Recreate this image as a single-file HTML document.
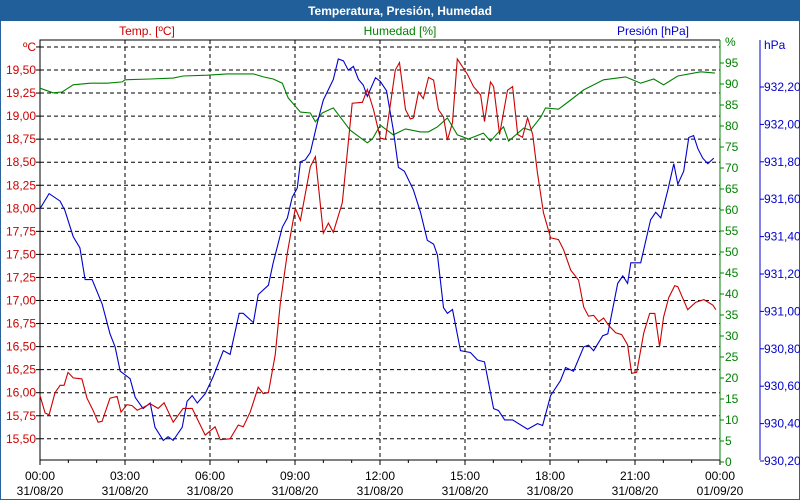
<!DOCTYPE html>
<html><head><meta charset="utf-8">
<style>
body{margin:0;width:800px;height:500px;overflow:hidden;background:#fff;font-family:"Liberation Sans",sans-serif;}
#frame{position:absolute;left:0;top:0;width:798px;height:498px;border:1px solid #2a62a0;}
</style></head>
<body>
<div id="frame"></div>
<svg id="chart" width="800" height="500" style="position:absolute;left:0;top:0" font-family="Liberation Sans, sans-serif" font-size="12">
<rect x="0" y="0" width="800" height="21" fill="#215f9a"/>
<text x="400" y="15" text-anchor="middle" fill="#fff" font-weight="bold" font-size="12">Temperatura, Presión, Humedad</text>
<text x="147" y="35" text-anchor="middle" fill="#cc0000">Temp. [ºC]</text>
<text x="400" y="35" text-anchor="middle" fill="#008000">Humedad [%]</text>
<text x="653" y="35" text-anchor="middle" fill="#0000cc">Presión [hPa]</text>
<g id="grid"></g><g id="axes"></g><g id="series"></g>
</svg>
<script>
const tempTimes=[0,.18,.32,.53,.71,.85,.99,1.17,1.48,1.66,1.87,2.05,2.19,2.47,2.72,2.86,3.07,3.25,3.43,3.64,3.89,4.17,4.38,4.70,5.05,5.37,5.83,6.18,6.36,6.71,7.00,7.17,7.42,7.70,7.88,8.06,8.30,8.48,8.73,9.01,9.19,9.54,9.72,10.00,10.18,10.35,10.67,11.02,11.38,11.55,11.77,12.01,12.19,12.54,12.69,12.90,13.07,13.18,13.36,13.53,13.71,13.89,14.06,14.24,14.38,14.56,14.73,15.09,15.30,15.55,15.69,15.90,16.01,16.22,16.50,16.68,16.86,17.03,17.21,17.39,17.56,17.77,18.02,18.30,18.48,18.73,19.01,19.19,19.36,19.54,19.72,19.89,20.07,20.32,20.53,20.74,20.88,21.06,21.31,21.52,21.70,21.87,22.01,22.19,22.40,22.51,22.86,23.14,23.43,23.75,23.85];
const tempValues=[15.97,15.78,15.76,16.00,16.08,16.08,16.22,16.16,16.15,15.94,15.81,15.68,15.69,15.94,15.96,15.79,15.87,15.86,15.81,15.84,15.88,15.83,15.89,15.68,15.83,15.83,15.54,15.63,15.49,15.50,15.65,15.63,15.79,16.06,15.99,16.00,16.41,16.97,17.52,18.00,17.87,18.45,18.56,17.73,17.84,17.74,18.06,19.14,19.15,19.29,19.07,18.76,18.75,19.50,19.58,19.07,18.97,18.98,19.26,19.19,19.42,19.39,19.07,18.99,18.74,18.93,19.62,19.45,19.32,19.23,18.94,19.37,19.32,18.80,19.28,19.32,18.80,18.77,18.98,18.80,18.38,17.95,17.68,17.66,17.55,17.33,17.22,16.93,16.83,16.84,16.77,16.81,16.73,16.65,16.63,16.52,16.21,16.22,16.65,16.86,16.86,16.50,16.82,17.03,17.16,17.15,16.90,16.98,17.01,16.95,16.90];
const presTimes=[0,.32,.71,.88,1.17,1.41,1.59,1.84,2.19,2.47,2.65,2.83,3.18,3.36,3.64,3.89,4.06,4.35,4.52,4.70,5.02,5.19,5.37,5.55,5.83,6.11,6.47,6.71,7.03,7.17,7.53,7.70,8.06,8.23,8.55,8.73,8.90,9.08,9.19,9.36,9.54,9.79,10.00,10.35,10.53,10.71,10.88,11.06,11.24,11.41,11.55,11.84,12.01,12.23,12.47,12.65,12.86,13.18,13.43,13.67,13.89,14.03,14.24,14.38,14.56,14.84,15.19,15.44,15.69,16.01,16.18,16.40,16.68,17.21,17.56,17.74,18.02,18.37,18.55,18.83,19.19,19.36,19.54,19.86,20.04,20.39,20.57,20.74,20.85,21.20,21.55,21.73,21.91,22.16,22.37,22.51,22.72,22.90,23.07,23.22,23.39,23.57,23.78];
const presValues=[931.55,931.63,931.59,931.54,931.40,931.34,931.17,931.17,931.04,930.88,930.81,930.68,930.64,930.54,930.48,930.51,930.38,930.31,930.33,930.31,930.38,930.52,930.55,930.51,930.56,930.65,930.79,930.77,930.99,930.99,930.94,931.09,931.14,931.26,931.45,931.50,931.61,931.66,931.80,931.81,931.85,932.01,932.13,932.24,932.35,932.34,932.29,932.31,932.24,932.21,932.15,932.25,932.23,932.18,931.97,931.77,931.75,931.65,931.53,931.38,931.36,931.30,931.02,930.99,931.01,930.79,930.78,930.74,930.73,930.48,930.47,930.42,930.42,930.37,930.40,930.39,930.55,930.63,930.70,930.68,930.81,930.82,930.79,930.87,930.88,931.15,931.19,931.15,931.26,931.26,931.49,931.53,931.50,931.65,931.79,931.68,931.75,931.93,931.94,931.87,931.82,931.79,931.82];
const humTimes=[0,.46,.78,1.17,1.77,2.37,2.90,3.00,3.89,4.70,5.05,5.90,6.61,7.53,7.88,8.23,8.55,8.76,9.19,9.54,9.72,9.96,10.35,10.95,11.55,11.73,12.01,12.47,12.90,13.43,13.71,14.03,14.38,14.73,15.12,15.65,15.90,16.36,16.54,17.07,17.31,17.67,17.84,18.30,18.73,19.19,19.89,20.67,21.20,21.66,22.01,22.51,23.32,23.82];
const humValues=[89.0,87.9,88.1,89.8,90.2,90.2,90.5,91.0,91.2,91.4,91.9,92.1,92.4,92.4,91.7,91.2,90.2,86.7,83.3,83.1,81.0,83.1,84.3,79.0,76.0,76.9,80.2,77.9,79.3,78.6,78.6,79.8,81.9,77.9,76.9,78.3,76.4,79.8,76.4,79.5,79.0,82.1,84.3,84.0,86.2,88.6,91.0,91.7,90.2,91.2,89.8,91.9,92.9,92.6];
const tempTicks=["15,50","15,75","16,00","16,25","16,50","16,75","17,00","17,25","17,50","17,75","18,00","18,25","18,50","18,75","19,00","19,25","19,50"];
const humTicks=[0,5,10,15,20,25,30,35,40,45,50,55,60,65,70,75,80,85,90,95];
const presTicks=["930,20","930,40","930,60","930,80","931,00","931,20","931,40","931,60","931,80","932,00","932,20"];
const timeLabels=["00:00","03:00","06:00","09:00","12:00","15:00","18:00","21:00","00:00"];
const dateLabels=["31/08/20","31/08/20","31/08/20","31/08/20","31/08/20","31/08/20","31/08/20","31/08/20","01/09/20"];

const L=40,R=720,T=40,B=460;
const xS=h=>L+h*(R-L)/24;
const yT=v=>70-(v-19.5)*92.2;
const yH=v=>63-(v-95)*4.2;
const yP=v=>87-(v-932.2)*187;
const NS="http://www.w3.org/2000/svg";
function mk(tag,attrs,parent){const e=document.createElementNS(NS,tag);for(const k in attrs)e.setAttribute(k,attrs[k]);parent.appendChild(e);return e;}
const grid=document.getElementById('grid'),axes=document.getElementById('axes'),ser=document.getElementById('series');
for(let i=0;i<=17;i++){const v=15.5+i*0.25;const y=yT(v);
 const g=mk('line',{x1:L,x2:R,y1:y,y2:y,stroke:'#000','stroke-dasharray':'4,3','stroke-width':1},grid);
 
 
 const t=mk('line',{x1:L-4,x2:L,y1:y,y2:y,stroke:'#000'},axes);
 
 
}
tempTicks.forEach((s,i)=>{const v=15.5+i*0.25;const t=mk('text',{x:L-4,y:yT(v)+4,'text-anchor':'end',fill:'#cc0000'},axes);t.textContent=s;
 
 });
{const t=mk('text',{x:L-4,y:yT(19.75)+4,'text-anchor':'end',fill:'#cc0000'},axes);t.textContent='ºC';
 
 }
for(let h=0;h<=24;h++){const x=xS(h);
 if(h%3===0&&h>0&&h<24){const g=mk('line',{x1:x,x2:x,y1:T,y2:B,stroke:'#000','stroke-dasharray':'4,3'},grid);
  
  }
 const t=mk('line',{x1:x,x2:x,y1:B,y2:B+(h%3===0?5:3),stroke:'#000'},axes);
 
 }
timeLabels.forEach((s,i)=>{const x=xS(i*3);
 const a=mk('text',{x:x,y:480,'text-anchor':'middle',fill:'#000'},axes);a.textContent=s;
 
 
 const b=mk('text',{x:x,y:495,'text-anchor':'middle',fill:'#000'},axes);b.textContent=dateLabels[i];
 
 });
const fr=mk('path',{d:`M${L},${B}V${T}H${R}`,stroke:'#000',fill:'none'},axes);


const bx=mk('line',{x1:L,x2:R,y1:B,y2:B,stroke:'#000'},axes);


const ha=mk('line',{x1:R,x2:R,y1:T,y2:B,stroke:'#008000'},axes);


humTicks.forEach(v=>{const y=yH(v);
 const t=mk('line',{x1:R,x2:R+4,y1:y,y2:y,stroke:'#008000'},axes);
 
 
 const s=mk('text',{x:R+5,y:y+4,fill:'#008000'},axes);s.textContent=v;
 
 });
{const s=mk('text',{x:R+5,y:yH(100)+4,fill:'#008000'},axes);s.textContent='%';
 
 }
const pa=mk('line',{x1:760,x2:760,y1:T,y2:B,stroke:'#0000cc'},axes);


presTicks.forEach((s,i)=>{const v=930.2+i*0.2;const y=yP(v);
 const t=mk('line',{x1:760,x2:764,y1:y,y2:y,stroke:'#0000cc'},axes);
 
 
 const tx=mk('text',{x:764,y:y+4,fill:'#0000cc'},axes);tx.textContent=s;
 
 });
{const s=mk('text',{x:764,y:49,fill:'#0000cc'},axes);s.textContent='hPa';
 
 }
function line(ts,vs,yf,col,name){const d=ts.map((t,i)=>(i?'L':'M')+xS(t).toFixed(1)+','+yf(vs[i]).toFixed(1)).join('');
 const p=mk('path',{d:d,stroke:col,fill:'none','stroke-width':1.1},ser);
 
 }
line(humTimes,humValues,yH,'#008000','humidity-line');
line(presTimes,presValues,yP,'#0000cc','pressure-line');
line(tempTimes,tempValues,yT,'#cc0000','temperature-line');
</script>
</body></html>
